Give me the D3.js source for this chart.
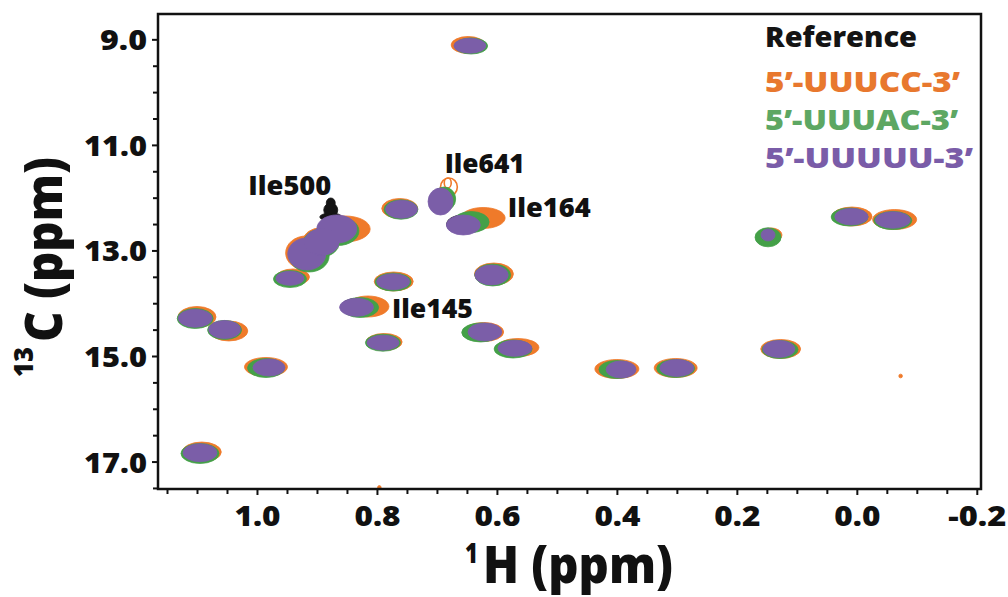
<!DOCTYPE html>
<html><head><meta charset="utf-8">
<script src="https://cdn.jsdelivr.net/npm/d3@7"></script>
<style>
html,body{margin:0;padding:0;background:#fff;}
svg{display:block;font-family:"Open Sans","DejaVu Sans",sans-serif;font-weight:800;}
</style></head><body>
<svg id="chart" width="1008" height="597"></svg>
<script>
// ---------------- data (ppm) ----------------
const xMajorTicks = [1.0, 0.8, 0.6, 0.4, 0.2, 0.0, -0.2];
const xTickLabels = ["1.0", "0.8", "0.6", "0.4", "0.2", "0.0", "-0.2"];
const xMinorTicks = [1.15, 1.1, 1.05, 0.95, 0.9, 0.85, 0.75, 0.7, 0.65, 0.55, 0.5, 0.45, 0.35, 0.3, 0.25, 0.15, 0.1, 0.05, -0.05, -0.1, -0.15];
const yMajorTicks = [9, 11, 13, 15, 17];
const yTickLabels = ["9.0", "11.0", "13.0", "15.0", "17.0"];
const yMinorTicks = [9.5, 10, 10.5, 11.5, 12, 12.5, 13.5, 14, 14.5, 15.5, 16, 16.5, 17.5];

const seriesNames = ["Reference", "5’-UUUCC-3’", "5’-UUUAC-3’", "5’-UUUUU-3’"];

// each peak: [1H ppm, 13C ppm, 1H half-width, 13C half-width]
const referencePeaks = [
  [0.877, 12.101, 0.0075, 0.095], [0.877, 12.234, 0.0117, 0.133], [0.877, 12.366, 0.0183, 0.076],
  [0.645, 9.121, 0.025, 0.135], [0.759, 12.220, 0.025, 0.162], [0.692, 12.040, 0.018, 0.220],
  [0.658, 12.505, 0.026, 0.175], [0.867, 12.593, 0.031, 0.250], [0.917, 13.067, 0.030, 0.290],
  [0.945, 13.528, 0.022, 0.126], [0.833, 14.071, 0.027, 0.165], [0.773, 13.592, 0.026, 0.144],
  [0.607, 13.455, 0.026, 0.178], [1.103, 14.285, 0.027, 0.162], [1.054, 14.498, 0.025, 0.162],
  [0.790, 14.748, 0.025, 0.135], [0.620, 14.545, 0.027, 0.162], [0.570, 14.854, 0.027, 0.144],
  [0.980, 15.218, 0.025, 0.153], [1.095, 16.832, 0.027, 0.162], [0.393, 15.256, 0.024, 0.153],
  [0.300, 15.227, 0.027, 0.153], [0.130, 14.867, 0.025, 0.153], [0.147, 12.700, 0.010, 0.115],
  [0.011, 12.350, 0.026, 0.150], [-0.060, 12.423, 0.028, 0.150]
];
const uuuccPeaks = [
  [0.648, 9.107, 0.0283, 0.161], [0.762, 12.205, 0.030, 0.189],
  [0.623, 12.385, 0.0367, 0.199], [0.853, 12.593, 0.0417, 0.246], [0.918, 13.048, 0.0342, 0.322],
  [0.893, 12.820, 0.0300, 0.250],
  [0.940, 13.503, 0.0275, 0.152], [0.815, 14.062, 0.035, 0.199], [0.772, 13.588, 0.0325, 0.180],
  [0.605, 13.446, 0.0325, 0.208], [1.100, 14.261, 0.0317, 0.199], [1.047, 14.526, 0.0317, 0.189],
  [0.788, 14.734, 0.030, 0.161], [0.622, 14.545, 0.0333, 0.180], [0.565, 14.839, 0.035, 0.171],
  [0.985, 15.208, 0.0358, 0.180], [1.092, 16.819, 0.0325, 0.189], [0.400, 15.246, 0.0367, 0.180],
  [0.302, 15.227, 0.0358, 0.180], [0.127, 14.867, 0.0333, 0.180], [0.143, 12.707, 0.0183, 0.133],
  [0.008, 12.357, 0.0333, 0.180], [-0.063, 12.414, 0.0367, 0.189],
  [-0.073, 15.379, 0.003, 0.035], [0.796, 17.491, 0.003, 0.035]
];
// low-level open contours of 5'-UUUCC-3' (Ile641)
const uuuccOpenContours = [
  [0.680, 11.798, 0.0140, 0.171], [0.682, 11.722, 0.0058, 0.095]
];
const uuuacPeaks = [
  [0.643, 9.126, 0.0275, 0.152], [0.760, 12.224, 0.0283, 0.184], [0.688, 12.025, 0.0192, 0.227],
  [0.643, 12.461, 0.030, 0.199], [0.865, 12.631, 0.035, 0.275], [0.913, 13.105, 0.0333, 0.303],
  [0.893, 12.860, 0.0300, 0.260],
  [0.945, 13.541, 0.0275, 0.161], [0.828, 14.081, 0.0308, 0.189], [0.773, 13.598, 0.030, 0.171],
  [0.607, 13.465, 0.030, 0.208], [1.103, 14.289, 0.030, 0.189], [1.054, 14.507, 0.0283, 0.180],
  [0.790, 14.748, 0.0292, 0.161], [0.627, 14.554, 0.0317, 0.180], [0.573, 14.867, 0.0317, 0.171],
  [0.985, 15.227, 0.0308, 0.180], [1.095, 16.847, 0.0317, 0.189], [0.400, 15.256, 0.030, 0.171],
  [0.302, 15.236, 0.0317, 0.171], [0.128, 14.877, 0.030, 0.171], [0.148, 12.751, 0.0217, 0.180],
  [0.012, 12.366, 0.0308, 0.171], [-0.060, 12.433, 0.0317, 0.171]
];
const uuuuuPeaks = [
  [0.645, 9.121, 0.0267, 0.142], [0.759, 12.220, 0.0267, 0.171], [0.694, 12.073, 0.0208, 0.256],
  [0.656, 12.518, 0.0283, 0.189], [0.867, 12.593, 0.0333, 0.265], [0.917, 13.067, 0.0317, 0.303],
  [0.892, 12.840, 0.0290, 0.250],
  [0.945, 13.528, 0.0233, 0.133], [0.834, 14.077, 0.0283, 0.171], [0.773, 13.592, 0.0275, 0.152],
  [0.609, 13.465, 0.0278, 0.189], [1.103, 14.285, 0.0283, 0.171], [1.054, 14.498, 0.0267, 0.171],
  [0.790, 14.748, 0.0267, 0.142], [0.620, 14.545, 0.0283, 0.171], [0.570, 14.854, 0.0283, 0.152],
  [0.980, 15.218, 0.0267, 0.161], [1.095, 16.832, 0.0283, 0.171], [0.393, 15.256, 0.025, 0.161],
  [0.300, 15.227, 0.0283, 0.161], [0.130, 14.867, 0.0267, 0.161], [0.148, 12.707, 0.0117, 0.114],
  [0.009, 12.360, 0.0278, 0.157], [-0.060, 12.423, 0.0292, 0.157]
];

const peakLabels = ["Ile500", "Ile641", "Ile164", "Ile145"];
const peakLabelAnchors = [[1.0145, 11.949], [0.687, 11.538], [0.582, 12.360], [0.775, 14.285]];

// ---------------- drawing ----------------
const colors = ["#141414", "#ef7a2a", "#44a048", "#7b5ea8"];
const legendColors = ["#141414", "#e8782e", "#5da763", "#7a5ca8"];

const svg = d3.select("#chart");
const L = 158, R = 981, T = 14, B = 489;
const x = d3.scaleLinear().domain([1.165, -0.207]).range([L, R]);
const y = d3.scaleLinear().domain([8.52, 17.52]).range([T, B]);

svg.append("defs").append("clipPath").attr("id", "plotclip")
  .append("rect").attr("x", L).attr("y", T).attr("width", R - L).attr("height", B - T);

const plot = svg.append("g").attr("clip-path", "url(#plotclip)");

function drawPeaks(data, color, filled) {
  plot.append("g").selectAll("ellipse").data(data).join("ellipse")
    .attr("cx", d => x(d[0]))
    .attr("cy", d => y(d[1]))
    .attr("rx", d => Math.abs(x(d[0] + d[2]) - x(d[0])))
    .attr("ry", d => Math.abs(y(d[1] + d[3]) - y(d[1])))
    .attr("fill", filled ? color : "none")
    .attr("stroke", color)
    .attr("stroke-width", filled ? 0.8 : 1.6);
}
drawPeaks(referencePeaks, colors[0], true);
drawPeaks(uuuccPeaks, colors[1], true);
drawPeaks(uuuccOpenContours, colors[1], false);
drawPeaks(uuuacPeaks, colors[2], true);
drawPeaks(uuuuuPeaks, colors[3], true);

// axes
const tickFont = 29;
const fontFam = '"Open Sans","DejaVu Sans",sans-serif';
const xAxisMinor = d3.axisBottom(x).tickValues(xMinorTicks).tickSize(5).tickFormat("");
const xAxisMajor = d3.axisBottom(x).tickValues(xMajorTicks).tickSize(6).tickPadding(10)
  .tickFormat((d, i) => xTickLabels[i]);
const yAxisMinor = d3.axisLeft(y).tickValues(yMinorTicks).tickSize(5).tickFormat("");
const yAxisMajor = d3.axisLeft(y).tickValues(yMajorTicks).tickSize(6).tickPadding(5)
  .tickFormat((d, i) => yTickLabels[i]);

function styleAxis(g) {
  g.select(".domain").remove();
  g.selectAll("line").attr("stroke", "#111").attr("stroke-width", 2);
  g.selectAll("text").attr("fill", "#111").attr("font-size", tickFont)
    .attr("font-weight", 800).attr("font-family", fontFam);
}
svg.append("g").attr("transform", `translate(0,${B})`).call(xAxisMinor).call(styleAxis);
const gx = svg.append("g").attr("transform", `translate(0,${B})`).call(xAxisMajor).call(styleAxis);
gx.selectAll("text").attr("dy", "0.74em")
  .attr("textLength", (d, i) => xTickLabels[i].startsWith("-") ? 58 : 46)
  .attr("lengthAdjust", "spacingAndGlyphs");
svg.append("g").attr("transform", `translate(${L},0)`).call(yAxisMinor).call(styleAxis);
const gy = svg.append("g").attr("transform", `translate(${L},0)`).call(yAxisMajor).call(styleAxis);
gy.selectAll("text").attr("dy", "0.36em")
  .attr("textLength", (d, i) => yTickLabels[i].length === 3 ? 47 : 63)
  .attr("lengthAdjust", "spacingAndGlyphs");

// frame
svg.append("rect").attr("x", L).attr("y", T).attr("width", R - L).attr("height", B - T)
  .attr("fill", "none").attr("stroke", "#111").attr("stroke-width", 2.5);

// peak labels
const labelLengths = [83, 80, 83, 81];
svg.append("g").selectAll("text").data(peakLabels).join("text")
  .attr("x", (d, i) => x(peakLabelAnchors[i][0]))
  .attr("y", (d, i) => y(peakLabelAnchors[i][1]))
  .attr("font-size", 26).attr("fill", "#111")
  .attr("textLength", (d, i) => labelLengths[i]).attr("lengthAdjust", "spacingAndGlyphs")
  .text(d => d);

// legend
const legendBaselines = [47.3, 91.7, 130, 168.3];
const legendLengths = [152, 195, 193, 208];
svg.append("g").selectAll("text").data(seriesNames).join("text")
  .attr("x", 765)
  .attr("y", (d, i) => legendBaselines[i])
  .attr("font-size", 29)
  .attr("fill", (d, i) => legendColors[i])
  .attr("textLength", (d, i) => legendLengths[i]).attr("lengthAdjust", "spacingAndGlyphs")
  .text(d => d);

// axis titles
const xt = svg.append("g").attr("fill", "#111");
xt.append("text").attr("x", 465).attr("y", 563).attr("font-size", 28)
  .attr("textLength", 13).attr("lengthAdjust", "spacingAndGlyphs").text("1");
xt.append("text").attr("x", 483).attr("y", 583).attr("font-size", 52)
  .attr("textLength", 190).attr("lengthAdjust", "spacingAndGlyphs").text("H (ppm)");

const yt = svg.append("g").attr("fill", "#111").attr("transform", "translate(62,377) rotate(-90)");
yt.append("text").attr("x", 0).attr("y", -29).attr("font-size", 26)
  .attr("textLength", 30).attr("lengthAdjust", "spacingAndGlyphs").text("13");
yt.append("text").attr("x", 35).attr("y", 0).attr("font-size", 52)
  .attr("textLength", 185).attr("lengthAdjust", "spacingAndGlyphs").text("C (ppm)");
</script>
</body></html>
